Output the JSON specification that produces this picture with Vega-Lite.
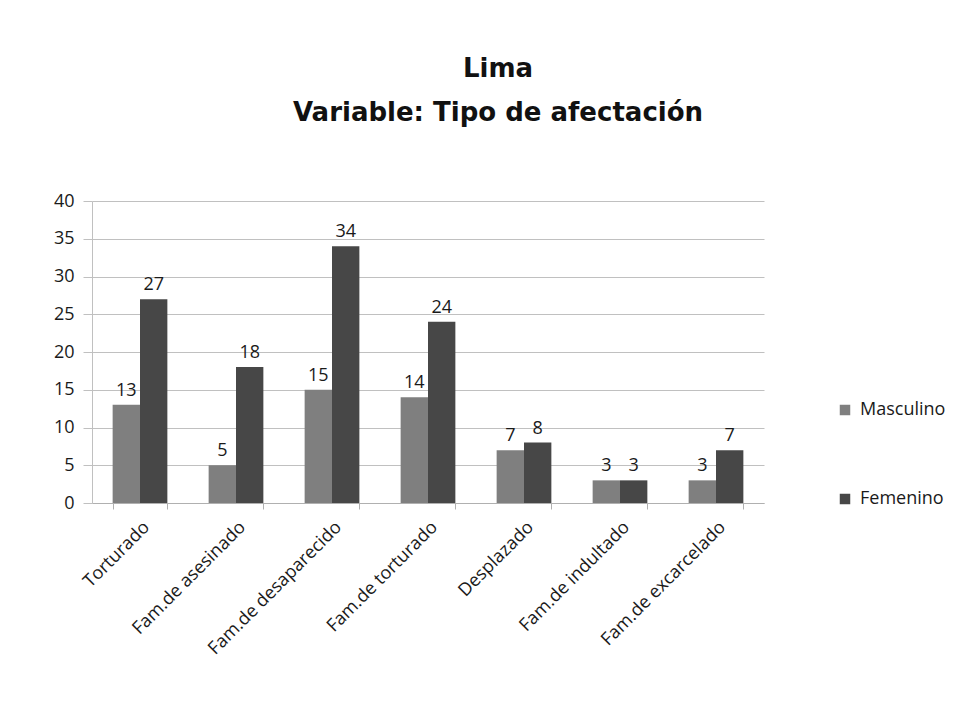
{
  "$schema": "https://vega.github.io/schema/vega-lite/v6.json",
  "autosize": "none",
  "width": 672,
  "height": 302,
  "padding": {"left": 92, "top": 201, "right": 210, "bottom": 217},
  "background": "white",
  "title": {
    "text": ["Lima", "Variable: Tipo de afectación"],
    "font": "DejaVu Sans",
    "fontSize": 26,
    "fontWeight": "bold",
    "color": "#111111",
    "lineHeight": 44,
    "anchor": "middle",
    "dx": 70,
    "offset": 66
  },
  "data": {
    "values": [
      {"categoria": "Torturado", "sexo": "Masculino", "valor": 13},
      {"categoria": "Torturado", "sexo": "Femenino", "valor": 27},
      {"categoria": "Fam.de asesinado", "sexo": "Masculino", "valor": 5},
      {"categoria": "Fam.de asesinado", "sexo": "Femenino", "valor": 18},
      {"categoria": "Fam.de desaparecido", "sexo": "Masculino", "valor": 15},
      {"categoria": "Fam.de desaparecido", "sexo": "Femenino", "valor": 34},
      {"categoria": "Fam.de torturado", "sexo": "Masculino", "valor": 14},
      {"categoria": "Fam.de torturado", "sexo": "Femenino", "valor": 24},
      {"categoria": "Desplazado", "sexo": "Masculino", "valor": 7},
      {"categoria": "Desplazado", "sexo": "Femenino", "valor": 8},
      {"categoria": "Fam.de indultado", "sexo": "Masculino", "valor": 3},
      {"categoria": "Fam.de indultado", "sexo": "Femenino", "valor": 3},
      {"categoria": "Fam.de excarcelado", "sexo": "Masculino", "valor": 3},
      {"categoria": "Fam.de excarcelado", "sexo": "Femenino", "valor": 7}
    ]
  },
  "encoding": {
    "x": {
      "field": "categoria",
      "type": "nominal",
      "sort": null,
      "title": null,
      "scale": {"paddingInner": 0.43, "paddingOuter": 0.215},
      "axis": {
        "labelAngle": -45,
        "labelFont": "Open Sans",
        "labelFontSize": 18,
        "labelColor": "#1a1a1a",
        "labelPadding": 9,
        "domainColor": "#b0b0b0",
        "tickColor": "#b0b0b0",
        "tickSize": 6,
        "tickBand": "extent",
        "grid": false
      }
    },
    "xOffset": {"field": "sexo", "type": "nominal", "sort": ["Masculino", "Femenino"]},
    "y": {
      "field": "valor",
      "type": "quantitative",
      "title": null,
      "scale": {"domain": [0, 40], "nice": false},
      "axis": {
        "values": [0, 5, 10, 15, 20, 25, 30, 35, 40],
        "labelFont": "Open Sans",
        "labelFontSize": 18,
        "labelColor": "#1a1a1a",
        "labelPadding": 9,
        "tickSize": 9,
        "tickColor": "#c0c0c0",
        "domainColor": "#c0c0c0",
        "gridColor": "#c0c0c0",
        "grid": true
      }
    }
  },
  "layer": [
    {
      "mark": {"type": "bar"},
      "encoding": {
        "color": {
          "field": "sexo",
          "type": "nominal",
          "sort": ["Masculino", "Femenino"],
          "scale": {"domain": ["Masculino", "Femenino"], "range": ["#7f7f7f", "#474747"]},
          "legend": {
            "title": null,
            "orient": "none",
            "legendX": 744,
            "legendY": 200,
            "symbolType": "square",
            "symbolSize": 110,
            "symbolStrokeWidth": 0,
            "labelFont": "Open Sans",
            "labelFontSize": 18,
            "labelColor": "#1a1a1a",
            "rowPadding": 71,
            "labelOffset": 6
          }
        }
      }
    },
    {
      "mark": {"type": "text", "baseline": "bottom", "dy": -5, "font": "Open Sans", "fontSize": 18, "color": "#1a1a1a"},
      "encoding": {
        "text": {"field": "valor", "type": "quantitative"}
      }
    }
  ],
  "config": {
    "view": {"stroke": null}
  }
}
